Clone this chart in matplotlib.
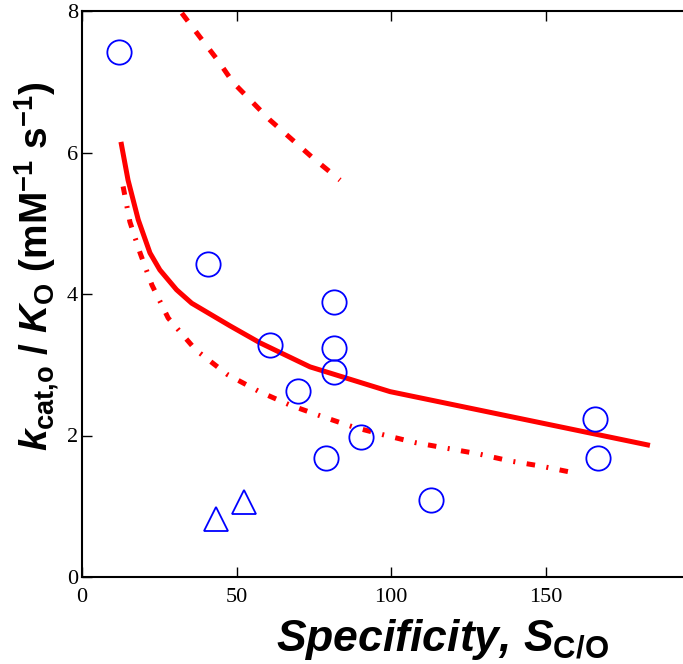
import matplotlib
matplotlib.use('Agg')
import matplotlib.pyplot as plt

plt.rcParams['mathtext.fontset'] = 'custom'
plt.rcParams['mathtext.rm'] = 'Liberation Sans:bold'
plt.rcParams['mathtext.it'] = 'Liberation Sans:bold:italic'
plt.rcParams['mathtext.bf'] = 'Liberation Sans:bold'

# measured enzymes
circ_x = [12.0, 40.9, 60.8, 70.0, 81.7, 81.7, 81.7, 79.0, 90.2, 112.9, 166.0, 167.1]
circ_y = [7.42, 4.42, 3.28, 2.63, 3.88, 3.23, 2.90, 1.68, 1.98, 1.09, 2.23, 1.68]
tri_x = [43.4, 52.4]
tri_y = [0.82, 1.06]

# model curves
solid_x = [12.6, 14.9, 18.2, 22.0, 25.2, 30.6, 35.5, 47.9, 57.6, 73.8, 99.7, 183.8]
solid_y = [6.15, 5.61, 5.05, 4.58, 4.34, 4.06, 3.87, 3.55, 3.31, 2.97, 2.62, 1.86]
upper_x = [32.3, 38.2, 44.0, 48.9, 60.8, 74.8, 83.5]
upper_y = [7.97, 7.63, 7.30, 6.99, 6.46, 5.92, 5.61]
lower_x = [13.3, 15.5, 18.8, 22.6, 27.9, 36.8, 47.1, 57.4, 67.3, 77.6, 87.8, 97.5,
           107.8, 118.0, 128.3, 138.5, 148.2, 159.5]
lower_y = [5.52, 5.02, 4.58, 4.13, 3.66, 3.21, 2.86, 2.62, 2.43, 2.27, 2.12, 2.01,
           1.90, 1.82, 1.74, 1.64, 1.57, 1.47]

fig = plt.figure(figsize=(6.83, 6.64), dpi=100)
ax = fig.add_axes([82/683, 87/664, 618/683, 566/664])

red = '#ff0000'
blue = '#0000ff'
ax.plot(solid_x, solid_y, color=red, lw=3.6, solid_capstyle='butt')
ax.plot(upper_x, upper_y, color=red, lw=3.6, dashes=(2.0, 2.6))
ax.plot(lower_x, lower_y, color=red, lw=3.6, dashes=(1.7, 2.3, 0.4, 2.3))
ax.plot(circ_x, circ_y, 'o', ms=17.5, mfc='none', mec=blue, mew=1.3)
ax.plot(tri_x, tri_y, '^', ms=17, mfc='none', mec=blue, mew=1.3)

ax.set_xlim(0, 200)
ax.set_ylim(0, 8)
ax.set_xticks([0, 50, 100, 150])
ax.set_yticks([0, 2, 4, 6, 8])
ax.tick_params(direction='in', length=7, width=1, top=True, right=True)
ax.tick_params(axis='x', pad=8)
ax.tick_params(axis='y', pad=3)
for lab in ax.get_xticklabels() + ax.get_yticklabels():
    lab.set_fontfamily('Liberation Serif')
    lab.set_fontsize(16)
for s in ax.spines.values():
    s.set_linewidth(1.5)

ax.set_xlabel('Specificity, $S_{\\mathrm{C/O}}$', fontsize=32, fontweight='bold',
              fontstyle='italic', family='Liberation Sans')
ax.xaxis.set_label_coords(0.584, -0.111)
ax.xaxis.label.set_va('center')
ax.set_ylabel('$k_{\\mathrm{cat{,}o}}$ / $K_{\\mathrm{O}}$ (mM$^{\\mathrm{-1}}$ s$^{\\mathrm{-1}}$)',
              fontsize=28, fontweight='bold', family='Liberation Sans')
ax.yaxis.set_label_coords(-0.074, 0.55)
ax.yaxis.label.set_va('center')

plt.savefig('out.png', dpi=100)
